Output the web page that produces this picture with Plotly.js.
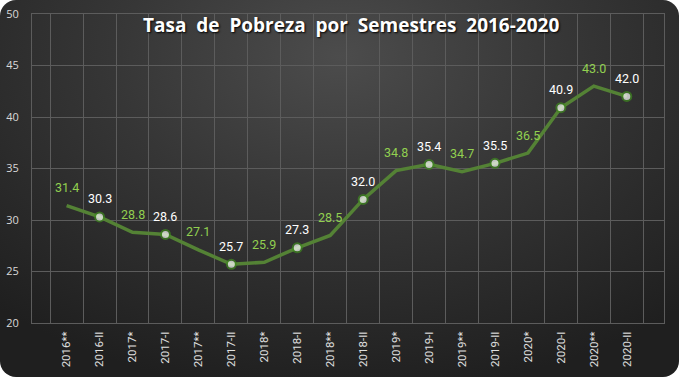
<!DOCTYPE html>
<html>
<head>
<meta charset="utf-8">
<script src="https://cdn.plot.ly/plotly-3.0.1.min.js"></script>
<style>
  html, body { margin: 0; padding: 0; background: #ffffff; }
  #chart {
    width: 679px; height: 377px;
    border-radius: 16px;
    overflow: hidden;
    background: radial-gradient(ellipse 75% 90% at 50% 15%, #4c4c4c 0%, #363636 45%, #1f1f1f 100%);
  }
</style>
</head>
<body>
<div id="chart"></div>
<script>
const categories = ["2016**", "2016-II", "2017*", "2017-I", "2017**", "2017-II", "2018*", "2018-I", "2018**",
                    "2018-II", "2019*", "2019-I", "2019**", "2019-II", "2020*", "2020-I", "2020**", "2020-II"];
const povertyRate = [31.4, 30.3, 28.8, 28.6, 27.1, 25.7, 25.9, 27.3, 28.5,
                     32.0, 34.8, 35.4, 34.7, 35.5, 36.5, 40.9, 43.0, 42.0];
// semesters with a marker (official I / II measurements)
const isSemester = categories.map(c => /-I+$/.test(c));
const yTicks = [20, 25, 30, 35, 40, 45, 50];

const GREEN_LINE = "#548235";
const GREEN_TEXT = "#92D050";

const trace = {
  type: "scatter",
  mode: "lines+markers",
  x: categories,
  y: povertyRate,
  line: { color: GREEN_LINE, width: 3.5 },
  marker: {
    size: isSemester.map(s => s ? 9 : 0),
    color: "#ffffff",
    line: { color: "#3f8a1f", width: 2 }
  },
  hoverinfo: "x+y"
};

const annotations = categories.map((c, i) => ({
  x: c, y: povertyRate[i], xref: "x", yref: "y",
  text: povertyRate[i].toFixed(1),
  showarrow: false,
  yshift: 18,
  font: { family: "Roboto, 'Open Sans', sans-serif", size: 12.5, color: isSemester[i] ? "#ffffff" : GREEN_TEXT }
}));

const layout = {
  width: 679, height: 377,
  margin: { l: 32, r: 15, t: 14, b: 54 },
  paper_bgcolor: "rgba(0,0,0,0)",
  plot_bgcolor: "rgba(0,0,0,0)",
  showlegend: false,
  title: {
    text: "Tasa\u00A0\u00A0de\u00A0\u00A0Pobreza\u00A0\u00A0por\u00A0\u00A0Semestres\u00A0\u00A02016-2020",
    x: 0.505, xref: "paper", xanchor: "center",
    y: 0.963, yref: "paper", yanchor: "middle",
    font: { family: "'Open Sans', sans-serif", size: 19, color: "#ffffff", weight: "bold",
            shadow: "1px 1px 2px #000000" }
  },
  xaxis: {
    type: "category",
    tickson: "boundaries",
    showgrid: true, gridcolor: "#5c5c5c", gridwidth: 1,
    showline: true, linecolor: "#5c5c5c", linewidth: 1, mirror: true,
    ticks: "", tickangle: -90,
    tickfont: { family: "Roboto, 'DejaVu Sans Condensed', sans-serif", size: 11.5, color: "#e0e0e0" },
    ticklabelstandoff: 3,
    fixedrange: true
  },
  yaxis: {
    range: [20, 50],
    tickvals: yTicks,
    showgrid: true, gridcolor: "#5c5c5c", gridwidth: 1,
    showline: true, linecolor: "#5c5c5c", linewidth: 1, mirror: true,
    zeroline: false,
    ticks: "",
    ticklabelstandoff: 10,
    tickfont: { family: "'Open Sans', sans-serif", size: 11, color: "#d9d9d9" },
    fixedrange: true
  },
  annotations: annotations
};

Plotly.newPlot("chart", [trace], layout, { displayModeBar: false, staticPlot: true });
</script>
</body>
</html>
